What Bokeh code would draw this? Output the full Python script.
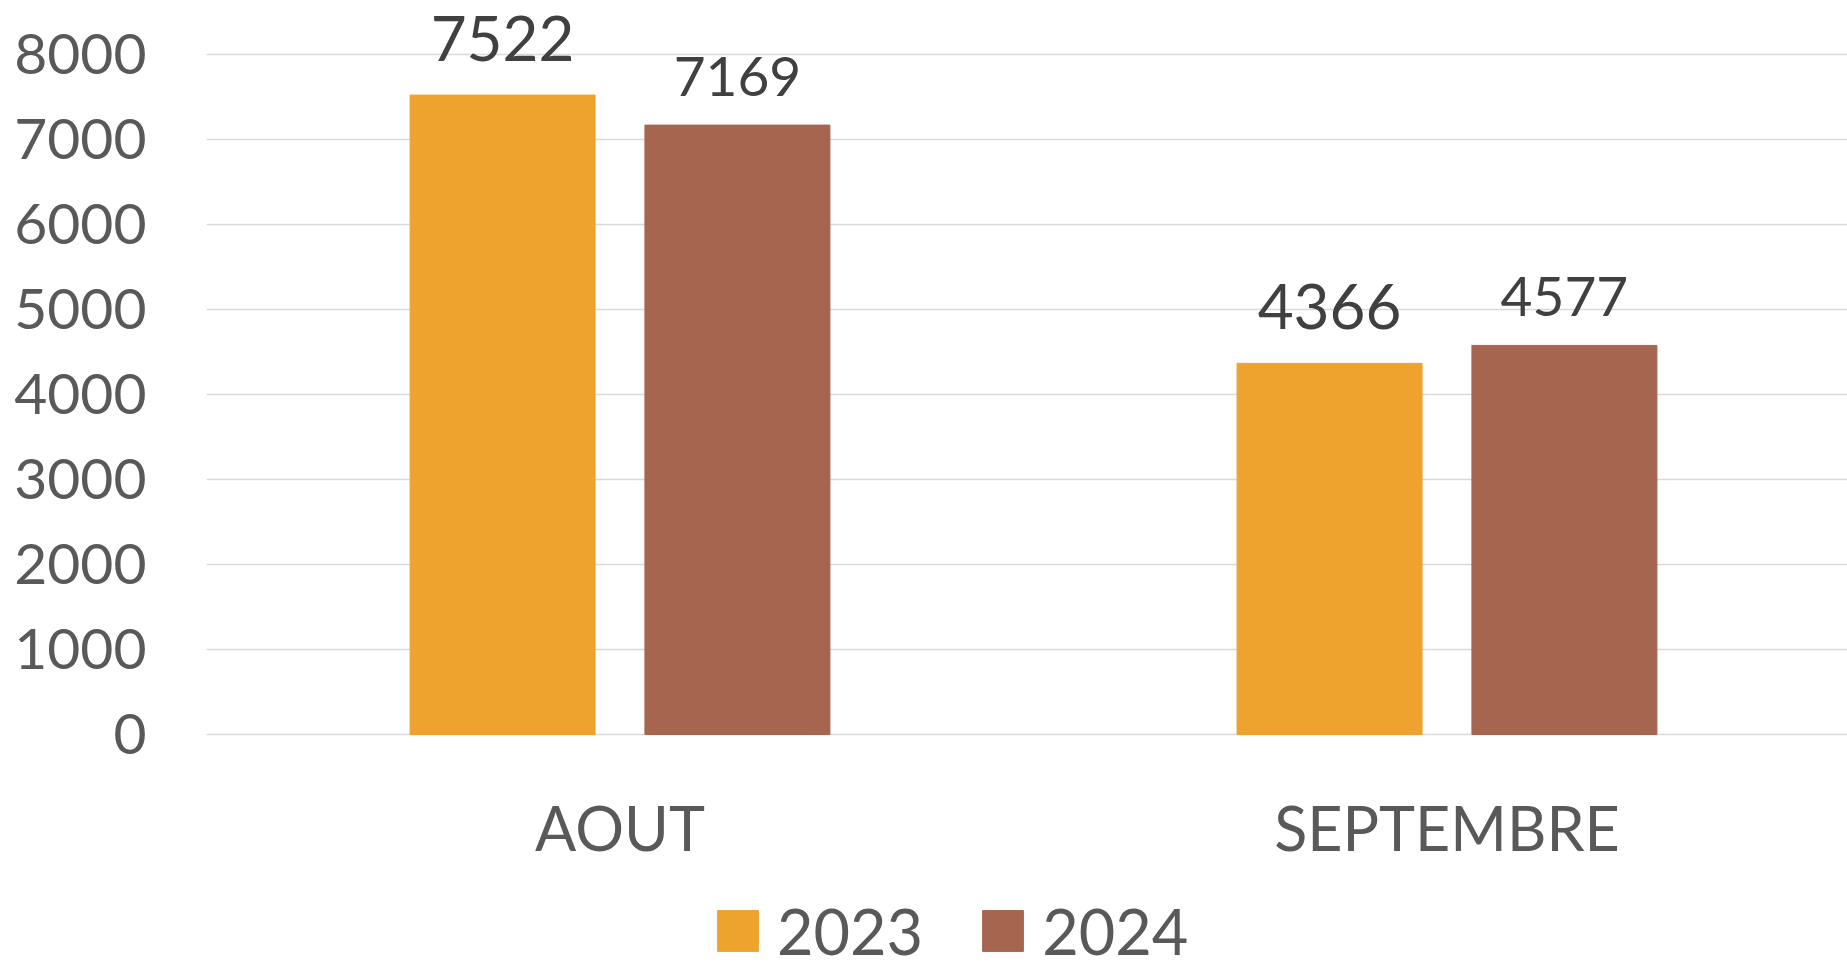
from bokeh.plotting import figure
from bokeh.models import ColumnDataSource, Range1d, FixedTicker, LabelSet, Legend, LegendItem
from bokeh.core.properties import value
from bokeh.transform import dodge
from bokeh.embed import file_html
from bokeh.resources import INLINE

months = ["AOUT", "SEPTEMBRE"]
years = ["2023", "2024"]
v2023 = [7522, 4366]
v2024 = [7169, 4577]
y_ticks = [0, 1000, 2000, 3000, 4000, 5000, 6000, 7000, 8000]

C2023 = "#EEA32F"
C2024 = "#A5654F"
FONT = "Lato"

idx = list(range(len(months)))
src = ColumnDataSource(dict(
    x=idx, base=[0] * len(idx), month=months,
    v2023=v2023, v2024=v2024,
    l2023=[str(v) for v in v2023], l2024=[str(v) for v in v2024],
))

p = figure(width=1847, height=968,
           x_range=Range1d(-0.5, 1.4843), y_range=Range1d(-2753, 8635),
           output_backend="svg", toolbar_location=None, title=None,
           min_border_left=206, min_border_right=0,
           min_border_top=0, min_border_bottom=0)
p.outline_line_color = None
p.background_fill_color = "white"
p.border_fill_color = "white"

off = 0.142
bw = 0.2237
r1 = p.vbar(x=dodge("x", -off, range=p.x_range), top="v2023", bottom=0, width=bw,
            source=src, fill_color=C2023, line_color=C2023)
r2 = p.vbar(x=dodge("x", off, range=p.x_range), top="v2024", bottom=0, width=bw,
            source=src, fill_color=C2024, line_color=C2024)

lab1 = LabelSet(x=dodge("x", -off, range=p.x_range), y="v2023", text="l2023", source=src,
                text_align="center", text_baseline="alphabetic", y_offset=34,
                text_font=value(FONT), text_font_size="62px", text_color="#404040")
lab2 = LabelSet(x=dodge("x", off, range=p.x_range), y="v2024", text="l2024", source=src,
                text_align="center", text_baseline="alphabetic", y_offset=29,
                text_font=value(FONT), text_font_size="55px", text_color="#404040")
p.add_layout(lab1)
p.add_layout(lab2)

# category labels under the bars
cat = LabelSet(x="x", y="base", text="month", source=src,
               text_align="center", text_baseline="alphabetic", y_offset=-117,
               text_font=value(FONT), text_font_size="61px", text_color="#595959")
p.add_layout(cat)

# axes
p.yaxis.ticker = FixedTicker(ticks=y_ticks)
p.yaxis.axis_line_color = None
p.yaxis.major_tick_line_color = None
p.yaxis.minor_tick_line_color = None
p.yaxis.major_label_text_font = FONT
p.yaxis.major_label_text_font_size = "57px"
p.yaxis.major_label_text_color = "#595959"
p.yaxis.major_label_standoff = 54
p.xaxis.visible = False

p.xgrid.visible = False
p.ygrid.ticker = FixedTicker(ticks=y_ticks)
p.ygrid.grid_line_color = "#D9D9D9"
p.ygrid.grid_line_width = 1.5

legend = Legend(items=[LegendItem(label=years[0], renderers=[r1]),
                       LegendItem(label=years[1], renderers=[r2])],
                orientation="horizontal", location=(506, 0),
                glyph_width=51, glyph_height=51, label_standoff=14, spacing=54,
                padding=0, margin=0, border_line_color=None,
                background_fill_alpha=0,
                label_text_font=FONT, label_text_font_size="63px",
                label_text_color="#595959")
p.add_layout(legend, "center")

open("out.html", "w").write(file_html(p, INLINE))
